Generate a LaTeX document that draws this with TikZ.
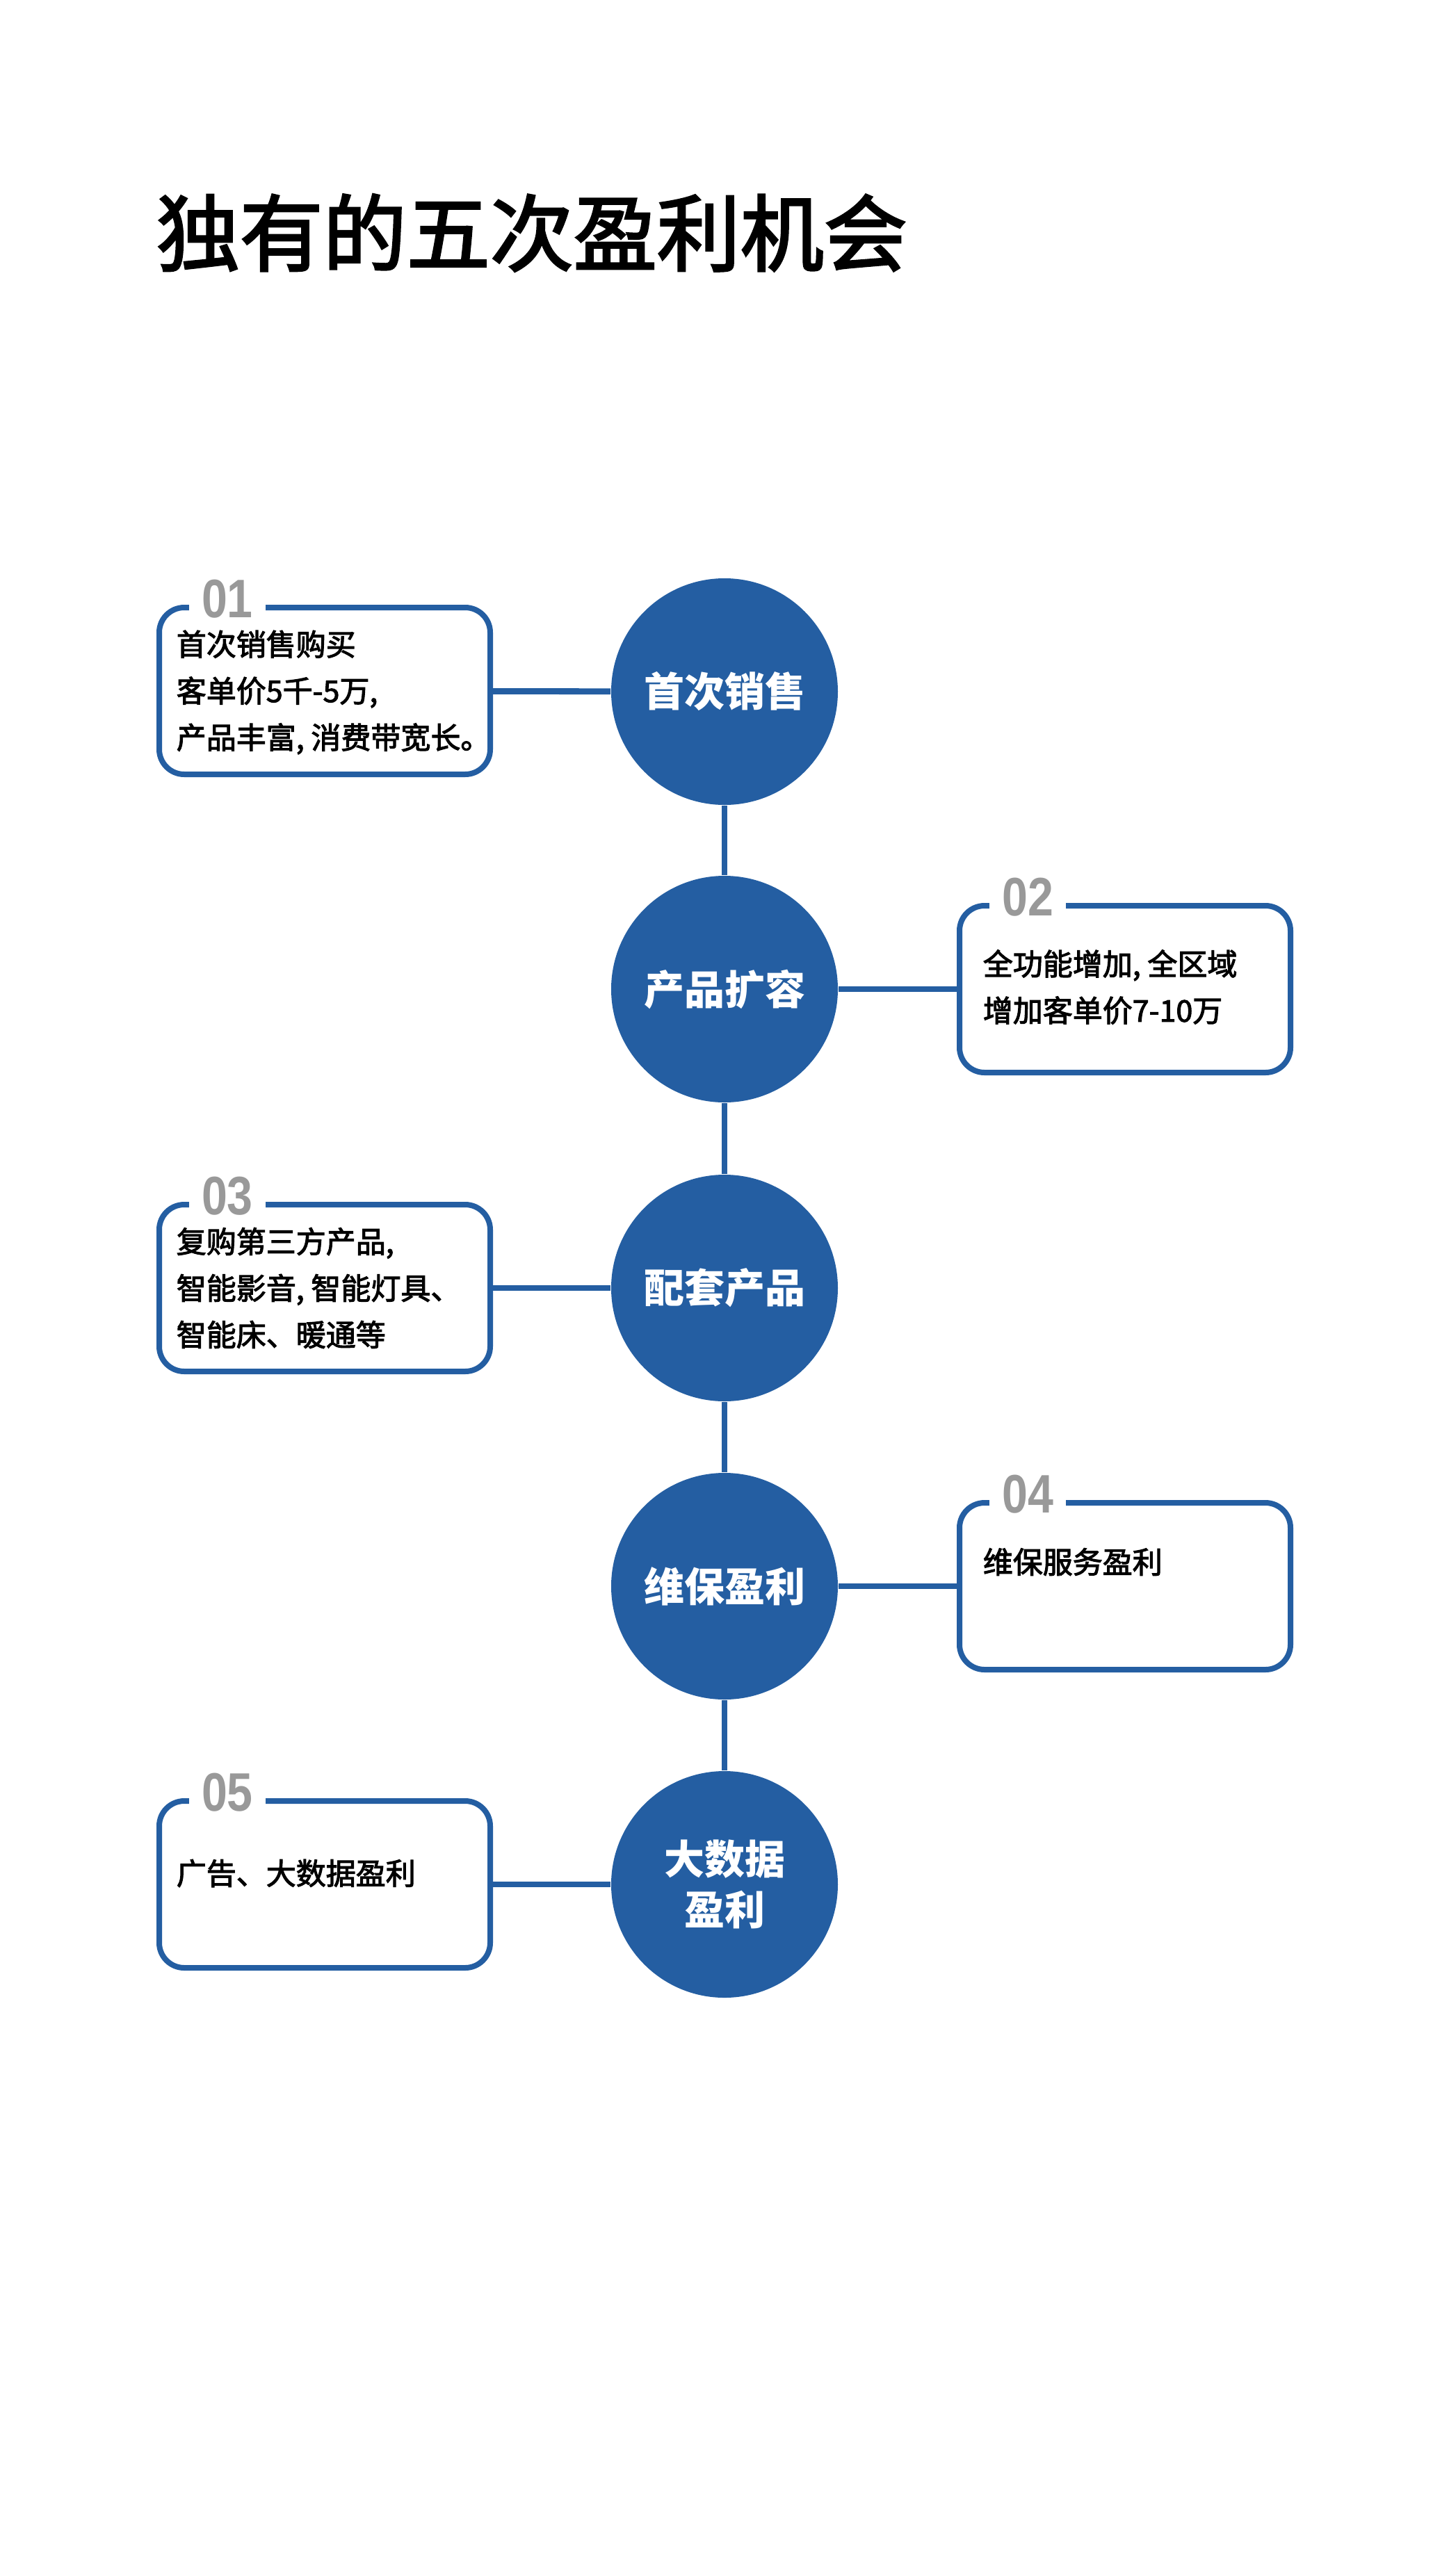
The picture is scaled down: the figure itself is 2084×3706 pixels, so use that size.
\documentclass[tikz,border=0pt]{standalone}
\usepackage{fontspec}
\setmainfont{Noto Sans CJK SC}
\newfontfamily\cjkmed[FakeBold=2.5]{Noto Sans CJK SC}
\newfontfamily\numfont[FakeStretch=0.85]{Liberation Sans}
\definecolor{bluefill}{RGB}{36,94,162}
\definecolor{numgray}{RGB}{153,153,153}
\tikzset{
  circ/.style={circle, fill=bluefill, minimum size=81.5pt, inner sep=0pt, text=white, align=center, font=\fontsize{14.5}{18.25}\selectfont\bfseries},
  card/.style={draw=bluefill, fill=white, line width=2pt, rounded corners=9pt, minimum width=119pt, minimum height=60pt, inner sep=0pt},
  numlbl/.style={fill=white, text=numgray, inner xsep=4.5pt, inner ysep=0pt, font=\numfont\bfseries\fontsize{19.5}{19.5}\selectfont},
  cardtext/.style={anchor=west, inner sep=0pt, align=left, font=\cjkmed\fontsize{10.75}{16.75}\selectfont},
  link/.style={draw=bluefill, line width=2.2pt},
}
\begin{document}
\begin{tikzpicture}[x=0.25pt,y=0.25pt,yscale=-1,xscale=1]
\useasboundingbox (0,0) rectangle (2084,3706);
\fill[white] (0,0) rectangle (2084,3706);
% Text Node
\node [anchor=west, inner sep=0pt, font=\cjkmed\fontsize{30}{36}\selectfont] (title) at (224,335) {独有的五次盈利机会};
%Shape: Rounded Rect
\node [card] (b1) at (467,994) {};
\node [card] (b2) at (1618,1423) {};
\node [card] (b3) at (467,1853) {};
\node [card] (b4) at (1618,2282) {};
\node [card] (b5) at (467,2711) {};
% Number Nodes
\node [numlbl] (n1) at ([xshift=25.5pt,yshift=-2pt]b1.north west) {01};
\node [numlbl] (n2) at ([xshift=25.5pt,yshift=-2pt]b2.north west) {02};
\node [numlbl] (n3) at ([xshift=25.5pt,yshift=-2pt]b3.north west) {03};
\node [numlbl] (n4) at ([xshift=25.5pt,yshift=-2pt]b4.north west) {04};
\node [numlbl] (n5) at ([xshift=25.5pt,yshift=-2pt]b5.north west) {05};
% Text Node
\node [cardtext] (t1) at (253,996) {首次销售购买\\客单价5千-5万,\\产品丰富, 消费带宽长。};
\node [cardtext] (t2) at (1413,1420) {全功能增加, 全区域\\增加客单价7-10万};
\node [cardtext] (t3) at (253,1853) {复购第三方产品,\\智能影音, 智能灯具、\\智能床、暖通等};
\node [cardtext] (t4) at (1413,2247) {维保服务盈利};
\node [cardtext] (t5) at (253,2695) {广告、大数据盈利};
%Shape: Circle
\node [circ] (c1) at (1042,995) {首次销售};
\node [circ] (c2) at (1042,1423) {产品扩容};
\node [circ] (c3) at (1042,1853) {配套产品};
\node [circ] (c4) at (1042,2282) {维保盈利};
\node [circ] (c5) at (1042,2711) {大数据\\盈利};
%Straight Lines
\draw [link] (c1) -- (c2);
\draw [link] (c2) -- (c3);
\draw [link] (c3) -- (c4);
\draw [link] (c4) -- (c5);
\draw [link] (c1) -- (b1);
\draw [link] (c2) -- (b2);
\draw [link] (c3) -- (b3);
\draw [link] (c4) -- (b4);
\draw [link] (c5) -- (b5);
\end{tikzpicture}
\end{document}
